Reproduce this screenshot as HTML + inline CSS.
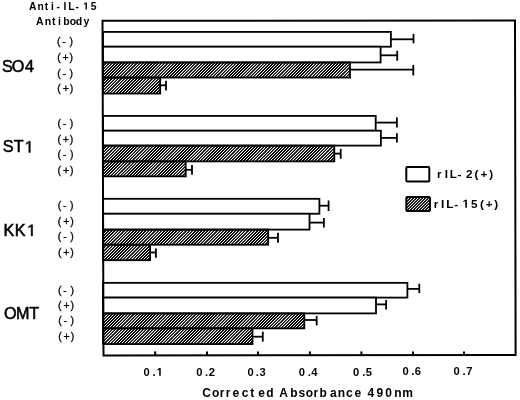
<!DOCTYPE html><html><head><meta charset="utf-8"><style>html,body{margin:0;padding:0;background:#fff;width:520px;height:400px;overflow:hidden}svg{display:block}text{font-family:"Liberation Sans",sans-serif}svg{will-change:transform}</style></head><body>
<svg width="520" height="400" viewBox="0 0 520 400">
<defs><pattern id="h" patternUnits="userSpaceOnUse" x="0" y="0" width="31" height="31"><rect width="31" height="31" fill="#000"/><path d="M6 0h1v1h-1zM9 0h1v1h-1zM12 0h1v1h-1zM14 0h1v1h-1zM17 0h1v1h-1zM20 0h1v1h-1zM5 1h1v1h-1zM8 1h1v1h-1zM11 1h1v1h-1zM13 1h1v1h-1zM16 1h1v1h-1zM19 1h1v1h-1zM4 2h1v1h-1zM7 2h1v1h-1zM10 2h1v1h-1zM12 2h1v1h-1zM15 2h1v1h-1zM18 2h1v1h-1zM3 3h1v1h-1zM6 3h1v1h-1zM9 3h1v1h-1zM11 3h1v1h-1zM14 3h1v1h-1zM17 3h1v1h-1zM2 4h1v1h-1zM5 4h1v1h-1zM8 4h1v1h-1zM10 4h1v1h-1zM13 4h1v1h-1zM16 4h1v1h-1zM1 5h1v1h-1zM4 5h1v1h-1zM7 5h1v1h-1zM9 5h1v1h-1zM12 5h1v1h-1zM15 5h1v1h-1zM0 6h1v1h-1zM3 6h1v1h-1zM6 6h1v1h-1zM8 6h1v1h-1zM11 6h1v1h-1zM14 6h1v1h-1zM2 7h1v1h-1zM5 7h1v1h-1zM7 7h1v1h-1zM10 7h1v1h-1zM13 7h1v1h-1zM30 7h1v1h-1zM1 8h1v1h-1zM4 8h1v1h-1zM6 8h1v1h-1zM9 8h1v1h-1zM12 8h1v1h-1zM29 8h1v1h-1zM0 9h1v1h-1zM3 9h1v1h-1zM5 9h1v1h-1zM8 9h1v1h-1zM11 9h1v1h-1zM28 9h1v1h-1zM2 10h1v1h-1zM4 10h1v1h-1zM7 10h1v1h-1zM10 10h1v1h-1zM27 10h1v1h-1zM30 10h1v1h-1zM1 11h1v1h-1zM3 11h1v1h-1zM6 11h1v1h-1zM9 11h1v1h-1zM26 11h1v1h-1zM29 11h1v1h-1zM0 12h1v1h-1zM2 12h1v1h-1zM5 12h1v1h-1zM8 12h1v1h-1zM25 12h1v1h-1zM28 12h1v1h-1zM1 13h1v1h-1zM4 13h1v1h-1zM7 13h1v1h-1zM24 13h1v1h-1zM27 13h1v1h-1zM30 13h1v1h-1zM0 14h1v1h-1zM3 14h1v1h-1zM6 14h1v1h-1zM23 14h1v1h-1zM26 14h1v1h-1zM29 14h1v1h-1zM2 15h1v1h-1zM5 15h1v1h-1zM22 15h1v1h-1zM25 15h1v1h-1zM28 15h1v1h-1zM30 15h1v1h-1zM1 16h1v1h-1zM4 16h1v1h-1zM21 16h1v1h-1zM24 16h1v1h-1zM27 16h1v1h-1zM29 16h1v1h-1zM0 17h1v1h-1zM3 17h1v1h-1zM20 17h1v1h-1zM23 17h1v1h-1zM26 17h1v1h-1zM28 17h1v1h-1zM2 18h1v1h-1zM19 18h1v1h-1zM22 18h1v1h-1zM25 18h1v1h-1zM27 18h1v1h-1zM30 18h1v1h-1zM1 19h1v1h-1zM18 19h1v1h-1zM21 19h1v1h-1zM24 19h1v1h-1zM26 19h1v1h-1zM29 19h1v1h-1zM0 20h1v1h-1zM17 20h1v1h-1zM20 20h1v1h-1zM23 20h1v1h-1zM25 20h1v1h-1zM28 20h1v1h-1zM16 21h1v1h-1zM19 21h1v1h-1zM22 21h1v1h-1zM24 21h1v1h-1zM27 21h1v1h-1zM30 21h1v1h-1zM15 22h1v1h-1zM18 22h1v1h-1zM21 22h1v1h-1zM23 22h1v1h-1zM26 22h1v1h-1zM29 22h1v1h-1zM14 23h1v1h-1zM17 23h1v1h-1zM20 23h1v1h-1zM22 23h1v1h-1zM25 23h1v1h-1zM28 23h1v1h-1zM13 24h1v1h-1zM16 24h1v1h-1zM19 24h1v1h-1zM21 24h1v1h-1zM24 24h1v1h-1zM27 24h1v1h-1zM12 25h1v1h-1zM15 25h1v1h-1zM18 25h1v1h-1zM20 25h1v1h-1zM23 25h1v1h-1zM26 25h1v1h-1zM11 26h1v1h-1zM14 26h1v1h-1zM17 26h1v1h-1zM19 26h1v1h-1zM22 26h1v1h-1zM25 26h1v1h-1zM10 27h1v1h-1zM13 27h1v1h-1zM16 27h1v1h-1zM18 27h1v1h-1zM21 27h1v1h-1zM24 27h1v1h-1zM9 28h1v1h-1zM12 28h1v1h-1zM15 28h1v1h-1zM17 28h1v1h-1zM20 28h1v1h-1zM23 28h1v1h-1zM8 29h1v1h-1zM11 29h1v1h-1zM14 29h1v1h-1zM16 29h1v1h-1zM19 29h1v1h-1zM22 29h1v1h-1zM7 30h1v1h-1zM10 30h1v1h-1zM13 30h1v1h-1zM15 30h1v1h-1zM18 30h1v1h-1zM21 30h1v1h-1z" fill="rgb(90,90,90)"/><path d="M2 0h1v1h-1zM5 0h1v1h-1zM8 0h1v1h-1zM11 0h1v1h-1zM15 0h1v1h-1zM18 0h1v1h-1zM21 0h1v1h-1zM24 0h1v1h-1zM27 0h1v1h-1zM30 0h1v1h-1zM1 1h1v1h-1zM4 1h1v1h-1zM7 1h1v1h-1zM10 1h1v1h-1zM14 1h1v1h-1zM17 1h1v1h-1zM20 1h1v1h-1zM23 1h1v1h-1zM26 1h1v1h-1zM29 1h1v1h-1zM0 2h1v1h-1zM3 2h1v1h-1zM6 2h1v1h-1zM9 2h1v1h-1zM13 2h1v1h-1zM16 2h1v1h-1zM19 2h1v1h-1zM22 2h1v1h-1zM25 2h1v1h-1zM28 2h1v1h-1zM2 3h1v1h-1zM5 3h1v1h-1zM8 3h1v1h-1zM12 3h1v1h-1zM15 3h1v1h-1zM18 3h1v1h-1zM21 3h1v1h-1zM24 3h1v1h-1zM27 3h1v1h-1zM30 3h1v1h-1zM1 4h1v1h-1zM4 4h1v1h-1zM7 4h1v1h-1zM11 4h1v1h-1zM14 4h1v1h-1zM17 4h1v1h-1zM20 4h1v1h-1zM23 4h1v1h-1zM26 4h1v1h-1zM29 4h1v1h-1zM0 5h1v1h-1zM3 5h1v1h-1zM6 5h1v1h-1zM10 5h1v1h-1zM13 5h1v1h-1zM16 5h1v1h-1zM19 5h1v1h-1zM22 5h1v1h-1zM25 5h1v1h-1zM28 5h1v1h-1zM2 6h1v1h-1zM5 6h1v1h-1zM9 6h1v1h-1zM12 6h1v1h-1zM15 6h1v1h-1zM18 6h1v1h-1zM21 6h1v1h-1zM24 6h1v1h-1zM27 6h1v1h-1zM30 6h1v1h-1zM1 7h1v1h-1zM4 7h1v1h-1zM8 7h1v1h-1zM11 7h1v1h-1zM14 7h1v1h-1zM17 7h1v1h-1zM20 7h1v1h-1zM23 7h1v1h-1zM26 7h1v1h-1zM29 7h1v1h-1zM0 8h1v1h-1zM3 8h1v1h-1zM7 8h1v1h-1zM10 8h1v1h-1zM13 8h1v1h-1zM16 8h1v1h-1zM19 8h1v1h-1zM22 8h1v1h-1zM25 8h1v1h-1zM28 8h1v1h-1zM2 9h1v1h-1zM6 9h1v1h-1zM9 9h1v1h-1zM12 9h1v1h-1zM15 9h1v1h-1zM18 9h1v1h-1zM21 9h1v1h-1zM24 9h1v1h-1zM27 9h1v1h-1zM30 9h1v1h-1zM1 10h1v1h-1zM5 10h1v1h-1zM8 10h1v1h-1zM11 10h1v1h-1zM14 10h1v1h-1zM17 10h1v1h-1zM20 10h1v1h-1zM23 10h1v1h-1zM26 10h1v1h-1zM29 10h1v1h-1zM0 11h1v1h-1zM4 11h1v1h-1zM7 11h1v1h-1zM10 11h1v1h-1zM13 11h1v1h-1zM16 11h1v1h-1zM19 11h1v1h-1zM22 11h1v1h-1zM25 11h1v1h-1zM28 11h1v1h-1zM3 12h1v1h-1zM6 12h1v1h-1zM9 12h1v1h-1zM12 12h1v1h-1zM15 12h1v1h-1zM18 12h1v1h-1zM21 12h1v1h-1zM24 12h1v1h-1zM27 12h1v1h-1zM30 12h1v1h-1zM2 13h1v1h-1zM5 13h1v1h-1zM8 13h1v1h-1zM11 13h1v1h-1zM14 13h1v1h-1zM17 13h1v1h-1zM20 13h1v1h-1zM23 13h1v1h-1zM26 13h1v1h-1zM29 13h1v1h-1zM1 14h1v1h-1zM4 14h1v1h-1zM7 14h1v1h-1zM10 14h1v1h-1zM13 14h1v1h-1zM16 14h1v1h-1zM19 14h1v1h-1zM22 14h1v1h-1zM25 14h1v1h-1zM28 14h1v1h-1zM0 15h1v1h-1zM3 15h1v1h-1zM6 15h1v1h-1zM9 15h1v1h-1zM12 15h1v1h-1zM15 15h1v1h-1zM18 15h1v1h-1zM21 15h1v1h-1zM24 15h1v1h-1zM27 15h1v1h-1zM2 16h1v1h-1zM5 16h1v1h-1zM8 16h1v1h-1zM11 16h1v1h-1zM14 16h1v1h-1zM17 16h1v1h-1zM20 16h1v1h-1zM23 16h1v1h-1zM26 16h1v1h-1zM30 16h1v1h-1zM1 17h1v1h-1zM4 17h1v1h-1zM7 17h1v1h-1zM10 17h1v1h-1zM13 17h1v1h-1zM16 17h1v1h-1zM19 17h1v1h-1zM22 17h1v1h-1zM25 17h1v1h-1zM29 17h1v1h-1zM0 18h1v1h-1zM3 18h1v1h-1zM6 18h1v1h-1zM9 18h1v1h-1zM12 18h1v1h-1zM15 18h1v1h-1zM18 18h1v1h-1zM21 18h1v1h-1zM24 18h1v1h-1zM28 18h1v1h-1zM2 19h1v1h-1zM5 19h1v1h-1zM8 19h1v1h-1zM11 19h1v1h-1zM14 19h1v1h-1zM17 19h1v1h-1zM20 19h1v1h-1zM23 19h1v1h-1zM27 19h1v1h-1zM30 19h1v1h-1zM1 20h1v1h-1zM4 20h1v1h-1zM7 20h1v1h-1zM10 20h1v1h-1zM13 20h1v1h-1zM16 20h1v1h-1zM19 20h1v1h-1zM22 20h1v1h-1zM26 20h1v1h-1zM29 20h1v1h-1zM0 21h1v1h-1zM3 21h1v1h-1zM6 21h1v1h-1zM9 21h1v1h-1zM12 21h1v1h-1zM15 21h1v1h-1zM18 21h1v1h-1zM21 21h1v1h-1zM25 21h1v1h-1zM28 21h1v1h-1zM2 22h1v1h-1zM5 22h1v1h-1zM8 22h1v1h-1zM11 22h1v1h-1zM14 22h1v1h-1zM17 22h1v1h-1zM20 22h1v1h-1zM24 22h1v1h-1zM27 22h1v1h-1zM30 22h1v1h-1zM1 23h1v1h-1zM4 23h1v1h-1zM7 23h1v1h-1zM10 23h1v1h-1zM13 23h1v1h-1zM16 23h1v1h-1zM19 23h1v1h-1zM23 23h1v1h-1zM26 23h1v1h-1zM29 23h1v1h-1zM0 24h1v1h-1zM3 24h1v1h-1zM6 24h1v1h-1zM9 24h1v1h-1zM12 24h1v1h-1zM15 24h1v1h-1zM18 24h1v1h-1zM22 24h1v1h-1zM25 24h1v1h-1zM28 24h1v1h-1zM2 25h1v1h-1zM5 25h1v1h-1zM8 25h1v1h-1zM11 25h1v1h-1zM14 25h1v1h-1zM17 25h1v1h-1zM21 25h1v1h-1zM24 25h1v1h-1zM27 25h1v1h-1zM30 25h1v1h-1zM1 26h1v1h-1zM4 26h1v1h-1zM7 26h1v1h-1zM10 26h1v1h-1zM13 26h1v1h-1zM16 26h1v1h-1zM20 26h1v1h-1zM23 26h1v1h-1zM26 26h1v1h-1zM29 26h1v1h-1zM0 27h1v1h-1zM3 27h1v1h-1zM6 27h1v1h-1zM9 27h1v1h-1zM12 27h1v1h-1zM15 27h1v1h-1zM19 27h1v1h-1zM22 27h1v1h-1zM25 27h1v1h-1zM28 27h1v1h-1zM2 28h1v1h-1zM5 28h1v1h-1zM8 28h1v1h-1zM11 28h1v1h-1zM14 28h1v1h-1zM18 28h1v1h-1zM21 28h1v1h-1zM24 28h1v1h-1zM27 28h1v1h-1zM30 28h1v1h-1zM1 29h1v1h-1zM4 29h1v1h-1zM7 29h1v1h-1zM10 29h1v1h-1zM13 29h1v1h-1zM17 29h1v1h-1zM20 29h1v1h-1zM23 29h1v1h-1zM26 29h1v1h-1zM29 29h1v1h-1zM0 30h1v1h-1zM3 30h1v1h-1zM6 30h1v1h-1zM9 30h1v1h-1zM12 30h1v1h-1zM16 30h1v1h-1zM19 30h1v1h-1zM22 30h1v1h-1zM25 30h1v1h-1zM28 30h1v1h-1z" fill="#fff"/></pattern><pattern id="h2" patternUnits="userSpaceOnUse" x="0" y="0" width="3" height="3"><rect x="0" y="0" width="1" height="1" fill="rgb(235,235,235)"/><rect x="0" y="1" width="1" height="1" fill="rgb(30,30,30)"/><rect x="0" y="2" width="1" height="1" fill="rgb(30,30,30)"/><rect x="1" y="0" width="1" height="1" fill="rgb(30,30,30)"/><rect x="1" y="1" width="1" height="1" fill="rgb(30,30,30)"/><rect x="1" y="2" width="1" height="1" fill="rgb(235,235,235)"/><rect x="2" y="0" width="1" height="1" fill="rgb(30,30,30)"/><rect x="2" y="1" width="1" height="1" fill="rgb(235,235,235)"/><rect x="2" y="2" width="1" height="1" fill="rgb(30,30,30)"/></pattern></defs>
<rect width="520" height="400" fill="#fff"/>
<defs><filter id="bl" x="-2%" y="-2%" width="104%" height="104%"><feGaussianBlur stdDeviation="0.35"/></filter></defs>
<rect x="103" y="62.45" width="247.00" height="15.10" fill="url(#h)"/>
<rect x="103" y="77.55" width="57.20" height="16.00" fill="url(#h)"/>
<rect x="103" y="145.6" width="231.30" height="15.80" fill="url(#h)"/>
<rect x="103" y="161.4" width="82.70" height="14.95" fill="url(#h)"/>
<rect x="103" y="229.6" width="165.20" height="15.10" fill="url(#h)"/>
<rect x="103" y="244.7" width="47.10" height="15.50" fill="url(#h)"/>
<rect x="103" y="313.4" width="201.30" height="14.95" fill="url(#h)"/>
<rect x="103" y="328.35" width="149.50" height="15.70" fill="url(#h)"/>
<rect x="406.3" y="196.9" width="23.7" height="14.2" fill="url(#h2)"/>
<g filter="url(#bl)">
<line x1="390.9" y1="39.3" x2="413.5" y2="39.3" stroke="#000" stroke-width="1.8"/>
<line x1="413.5" y1="33.9" x2="413.5" y2="43.3" stroke="#000" stroke-width="1.8"/>
<rect x="103" y="31.9" width="287.90" height="14.80" fill="#fff" stroke="#000" stroke-width="1.8"/>
<line x1="380.6" y1="55.3" x2="397.2" y2="55.3" stroke="#000" stroke-width="1.8"/>
<line x1="397.2" y1="50.75" x2="397.2" y2="60.7" stroke="#000" stroke-width="1.8"/>
<rect x="103" y="46.7" width="277.60" height="15.75" fill="#fff" stroke="#000" stroke-width="1.8"/>
<line x1="350.0" y1="69.7" x2="413.3" y2="69.7" stroke="#000" stroke-width="1.8"/>
<line x1="413.3" y1="65.0" x2="413.3" y2="75.5" stroke="#000" stroke-width="1.8"/>
<rect x="103" y="62.45" width="247.00" height="15.10" fill="none" stroke="#000" stroke-width="1.8"/>
<line x1="160.2" y1="85.3" x2="166.0" y2="85.3" stroke="#000" stroke-width="1.8"/>
<line x1="166.0" y1="80.8" x2="166.0" y2="90.6" stroke="#000" stroke-width="1.8"/>
<rect x="103" y="77.55" width="57.20" height="16.00" fill="none" stroke="#000" stroke-width="1.8"/>
<line x1="375.7" y1="122.6" x2="396.9" y2="122.6" stroke="#000" stroke-width="1.8"/>
<line x1="396.9" y1="117.5" x2="396.9" y2="127.4" stroke="#000" stroke-width="1.8"/>
<rect x="103" y="115.9" width="272.70" height="14.80" fill="#fff" stroke="#000" stroke-width="1.8"/>
<line x1="380.9" y1="137.9" x2="396.9" y2="137.9" stroke="#000" stroke-width="1.8"/>
<line x1="396.9" y1="133.3" x2="396.9" y2="142.6" stroke="#000" stroke-width="1.8"/>
<rect x="103" y="130.7" width="277.90" height="14.90" fill="#fff" stroke="#000" stroke-width="1.8"/>
<line x1="334.3" y1="153.6" x2="340.7" y2="153.6" stroke="#000" stroke-width="1.8"/>
<line x1="340.7" y1="148.9" x2="340.7" y2="158.8" stroke="#000" stroke-width="1.8"/>
<rect x="103" y="145.6" width="231.30" height="15.80" fill="none" stroke="#000" stroke-width="1.8"/>
<line x1="185.7" y1="169.8" x2="192.0" y2="169.8" stroke="#000" stroke-width="1.8"/>
<line x1="192.0" y1="164.9" x2="192.0" y2="174.8" stroke="#000" stroke-width="1.8"/>
<rect x="103" y="161.4" width="82.70" height="14.95" fill="none" stroke="#000" stroke-width="1.8"/>
<line x1="319.4" y1="205.7" x2="328.6" y2="205.7" stroke="#000" stroke-width="1.8"/>
<line x1="328.6" y1="200.5" x2="328.6" y2="211.0" stroke="#000" stroke-width="1.8"/>
<rect x="103" y="198.8" width="216.40" height="14.95" fill="#fff" stroke="#000" stroke-width="1.8"/>
<line x1="309.5" y1="222.6" x2="323.9" y2="222.6" stroke="#000" stroke-width="1.8"/>
<line x1="323.9" y1="218.0" x2="323.9" y2="227.6" stroke="#000" stroke-width="1.8"/>
<rect x="103" y="213.75" width="206.50" height="15.85" fill="#fff" stroke="#000" stroke-width="1.8"/>
<line x1="268.2" y1="237.8" x2="278.0" y2="237.8" stroke="#000" stroke-width="1.8"/>
<line x1="278.0" y1="232.8" x2="278.0" y2="242.7" stroke="#000" stroke-width="1.8"/>
<rect x="103" y="229.6" width="165.20" height="15.10" fill="none" stroke="#000" stroke-width="1.8"/>
<line x1="150.1" y1="252.5" x2="155.9" y2="252.5" stroke="#000" stroke-width="1.8"/>
<line x1="155.9" y1="248.4" x2="155.9" y2="257.8" stroke="#000" stroke-width="1.8"/>
<rect x="103" y="244.7" width="47.10" height="15.50" fill="none" stroke="#000" stroke-width="1.8"/>
<line x1="407.4" y1="288.9" x2="419.3" y2="288.9" stroke="#000" stroke-width="1.8"/>
<line x1="419.3" y1="283.7" x2="419.3" y2="293.1" stroke="#000" stroke-width="1.8"/>
<rect x="103" y="282.85" width="304.40" height="14.75" fill="#fff" stroke="#000" stroke-width="1.8"/>
<line x1="376.0" y1="304.4" x2="386.1" y2="304.4" stroke="#000" stroke-width="1.8"/>
<line x1="386.1" y1="299.9" x2="386.1" y2="309.4" stroke="#000" stroke-width="1.8"/>
<rect x="103" y="297.6" width="273.00" height="15.80" fill="#fff" stroke="#000" stroke-width="1.8"/>
<line x1="304.3" y1="320.0" x2="316.7" y2="320.0" stroke="#000" stroke-width="1.8"/>
<line x1="316.7" y1="315.9" x2="316.7" y2="325.4" stroke="#000" stroke-width="1.8"/>
<rect x="103" y="313.4" width="201.30" height="14.95" fill="none" stroke="#000" stroke-width="1.8"/>
<line x1="252.5" y1="336.7" x2="262.8" y2="336.7" stroke="#000" stroke-width="1.8"/>
<line x1="262.8" y1="331.7" x2="262.8" y2="341.6" stroke="#000" stroke-width="1.8"/>
<rect x="103" y="328.35" width="149.50" height="15.70" fill="none" stroke="#000" stroke-width="1.8"/>
<path d="M102.5 20.75L515.0 20.45L515.6 354.95L103.5 355.6Z" fill="none" stroke="#000" stroke-width="2"/>
<line x1="155.2" y1="351.4" x2="155.2" y2="355" stroke="#000" stroke-width="2"/>
<line x1="207.0" y1="351.4" x2="207.0" y2="355" stroke="#000" stroke-width="2"/>
<line x1="258.0" y1="351.4" x2="258.0" y2="355" stroke="#000" stroke-width="2"/>
<line x1="309.9" y1="351.4" x2="309.9" y2="355" stroke="#000" stroke-width="2"/>
<line x1="361.4" y1="351.4" x2="361.4" y2="355" stroke="#000" stroke-width="2"/>
<line x1="413.0" y1="351.4" x2="413.0" y2="355" stroke="#000" stroke-width="2"/>
<line x1="464.0" y1="351.4" x2="464.0" y2="355" stroke="#000" stroke-width="2"/>
<text class="t" x="28.99 37.48 44.84 51.12 56.59 63.47 68.22 75.59 90.77" y="9.6" font-size="10.3" font-weight="bold">Anti-IL-5</text>
<path transform="translate(83.09,9.6) scale(0.00503,-0.00503)" d="M478 0V1170L140 959V1180L493 1409H759V0Z"/>
<text class="t" x="36.07 44.77 52.10 57.95 63.36 69.69 75.77 83.42" y="25.2" font-size="10.5" font-weight="bold">Antibody</text>
<text class="t" x="2.10 11.80 24.95" y="72.3" font-size="16.2" font-weight="normal" stroke="#000" stroke-width="0.55">SO4</text>
<text class="t" x="2.70 13.71" y="152.4" font-size="16.2" font-weight="normal" stroke="#000" stroke-width="0.55">ST</text>
<path transform="translate(24.77,152.4) scale(0.00791,-0.00791)" d="M515 0V1237L197 1010V1180L530 1409H696V0Z" stroke="#000" stroke-width="69.5"/>
<text class="t" x="3.62 14.77" y="235.9" font-size="16.2" font-weight="normal" stroke="#000" stroke-width="0.55">KK</text>
<path transform="translate(27.07,235.9) scale(0.00791,-0.00791)" d="M515 0V1237L197 1010V1180L530 1409H696V0Z" stroke="#000" stroke-width="69.5"/>
<text class="t" x="3.90 15.95 29.36" y="318.6" font-size="16.2" font-weight="normal" stroke="#000" stroke-width="0.55">OMT</text>
<text class="t" x="57.06 62.36 69.45" y="44.81" font-size="10.5" font-weight="normal" stroke="#000" stroke-width="0.3">(-)</text>
<text class="t" x="57.13 62.51 69.52" y="61.11" font-size="10.5" font-weight="normal" stroke="#000" stroke-width="0.3">(+)</text>
<text class="t" x="57.19 62.49 69.58" y="76.71" font-size="10.5" font-weight="normal" stroke="#000" stroke-width="0.3">(-)</text>
<text class="t" x="57.25 62.63 69.64" y="91.91" font-size="10.5" font-weight="normal" stroke="#000" stroke-width="0.3">(+)</text>
<text class="t" x="57.39 62.69 69.78" y="127.01" font-size="10.5" font-weight="normal" stroke="#000" stroke-width="0.3">(-)</text>
<text class="t" x="57.45 62.83 69.84" y="142.61" font-size="10.5" font-weight="normal" stroke="#000" stroke-width="0.3">(+)</text>
<text class="t" x="57.52 62.81 69.91" y="158.21" font-size="10.5" font-weight="normal" stroke="#000" stroke-width="0.3">(-)</text>
<text class="t" x="57.58 62.96 69.97" y="174.01" font-size="10.5" font-weight="normal" stroke="#000" stroke-width="0.3">(+)</text>
<text class="t" x="57.72 63.01 70.11" y="209.11" font-size="10.5" font-weight="normal" stroke="#000" stroke-width="0.3">(-)</text>
<text class="t" x="57.78 63.16 70.17" y="225.31" font-size="10.5" font-weight="normal" stroke="#000" stroke-width="0.3">(+)</text>
<text class="t" x="57.84 63.14 70.23" y="240.31" font-size="10.5" font-weight="normal" stroke="#000" stroke-width="0.3">(-)</text>
<text class="t" x="57.91 63.29 70.30" y="256.21" font-size="10.5" font-weight="normal" stroke="#000" stroke-width="0.3">(+)</text>
<text class="t" x="58.06 63.35 70.45" y="293.61" font-size="10.5" font-weight="normal" stroke="#000" stroke-width="0.3">(-)</text>
<text class="t" x="58.12 63.50 70.51" y="309.11" font-size="10.5" font-weight="normal" stroke="#000" stroke-width="0.3">(+)</text>
<text class="t" x="58.18 63.47 70.57" y="324.01" font-size="10.5" font-weight="normal" stroke="#000" stroke-width="0.3">(-)</text>
<text class="t" x="58.24 63.62 70.63" y="340.01" font-size="10.5" font-weight="normal" stroke="#000" stroke-width="0.3">(+)</text>
<text class="t" x="143.49 152.45" y="375.8" font-size="11.2" font-weight="bold">0.</text>
<path transform="translate(156.59,375.8) scale(0.00547,-0.00547)" d="M478 0V1170L140 959V1180L493 1409H759V0Z"/>
<text class="t" x="196.24 205.00 208.82" y="375.73" font-size="11.2" font-weight="bold">0.2</text>
<text class="t" x="247.39 255.85 259.41" y="375.66" font-size="11.2" font-weight="bold">0.3</text>
<text class="t" x="298.84 307.70 311.28" y="375.59" font-size="11.2" font-weight="bold">0.4</text>
<text class="t" x="352.99 362.15 365.77" y="375.52" font-size="11.2" font-weight="bold">0.5</text>
<text class="t" x="402.39 411.25 414.78" y="375.45" font-size="11.2" font-weight="bold">0.6</text>
<text class="t" x="453.49 462.45 466.24" y="375.38" font-size="11.2" font-weight="bold">0.7</text>
<text class="t" x="202.23 211.93 219.86 225.81 232.43 241.80 250.20 258.23 266.23 279.13 290.19 298.40 305.73 313.46 319.54 329.90 337.76 346.00 354.43 367.40 376.53 385.17 394.21 402.14" y="397.1" font-size="12" font-weight="bold">CorrectedAbsorbance490nm</text>
<rect x="406.3" y="167" width="23" height="14.5" rx="1" fill="#fff" stroke="#000" stroke-width="2"/>
<rect x="406.3" y="196.9" width="23.7" height="14.2" rx="1" fill="none" stroke="#000" stroke-width="2"/>
<text class="t" x="437.03 444.67 449.77 457.46 465.88 474.52 480.58 489.14" y="177.8" font-size="11.7" font-weight="bold">rIL-2(+)</text>
<text class="t" x="433.63 440.97 446.37 454.21 470.88 480.07 485.83 494.34" y="207.8" font-size="11.7" font-weight="bold">rIL-5(+)</text>
<path transform="translate(462.53,207.8) scale(0.00571,-0.00571)" d="M478 0V1170L140 959V1180L493 1409H759V0Z"/>
</g>
</svg></body></html>
